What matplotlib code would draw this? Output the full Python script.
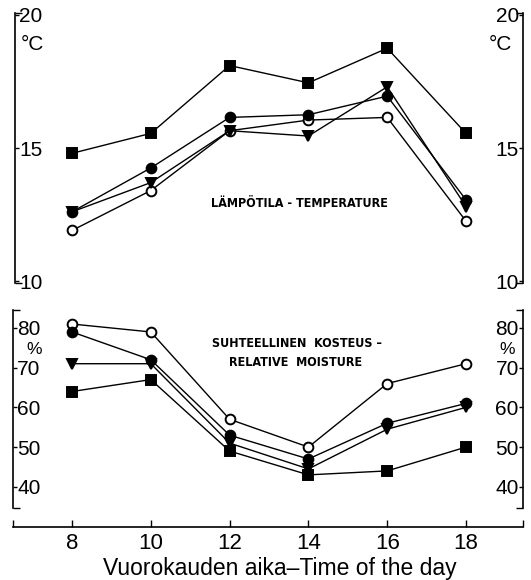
import numpy as np
import matplotlib
matplotlib.use('Agg')
import matplotlib.pyplot as plt

# ── Data ──────────────────────────────────────────────────────────────────────
hours = [8, 10, 12, 14, 16, 18]

temp_square   = [14.8, 15.55, 18.1, 17.45, 18.75, 15.55]
temp_dot      = [12.6, 14.25, 16.15, 16.25, 16.95, 13.05]
temp_triangle = [12.6, 13.7, 15.65, 15.45, 17.3, 12.8]
temp_circle   = [11.9, 13.4, 15.65, 16.05, 16.15, 12.25]

moist_square   = [64, 67, 49, 43, 44, 50]
moist_dot      = [79, 72, 53, 47, 56, 61]
moist_triangle = [71, 71, 51, 44.5, 54.5, 60]
moist_circle   = [81, 79, 57, 50, 66, 71]

plt.rcParams['font.family'] = ['Liberation Sans', 'DejaVu Sans']

W, H = 531, 580
fig = plt.figure(figsize=(W / 100, H / 100), dpi=100)


def px_axes(x0, y0, x1, y1):
    return fig.add_axes([x0 / W, 1 - y1 / H, (x1 - x0) / W, (y1 - y0) / H])


def hour_at(px):
    # pixel column -> hour, from the tick positions 8 h @ 72 px, 39.4 px/h
    return 8 + (px - 72) / 39.4


def series(ax, y, marker, filled=True, ms=7):
    ax.plot(hours, y, color='black', lw=1.0, marker=marker, ms=ms,
            mfc='black' if filled else 'white', mec='black', mew=1.4,
            clip_on=False, zorder=3)


def style_y(ax, major, lo, hi):
    ax.set_yticks(major)
    ax.set_yticks([lo, hi], minor=True)
    ax.tick_params(axis='y', which='both', direction='in', left=True,
                   right=True, labelleft=True, labelright=True, width=1.0,
                   labelsize=15)
    ax.tick_params(axis='y', which='minor', length=5)
    ax.tick_params(axis='y', which='major', length=3, pad=-3)
    for t in ax.yaxis.get_major_ticks():
        t.label1.set_ha('left')
        t.label2.set_ha('right')


label_kw = dict(fontsize=9, fontweight='bold', ha='center', va='center',
                family='DejaVu Sans', stretch='condensed')

# ── Temperature panel ─────────────────────────────────────────────────────────
ax1 = px_axes(15, 13, 523, 283)
ax1.set_xlim(hour_at(15), hour_at(523))
ax1.set_ylim(9.925, 20.075)
for s in ['top', 'bottom']:
    ax1.spines[s].set_visible(False)
ax1.set_xticks([])

series(ax1, temp_circle, 'o', filled=False)
series(ax1, temp_dot, 'o')
series(ax1, temp_triangle, 'v')
series(ax1, temp_square, 's', ms=6.5)

style_y(ax1, [10, 15, 20], 9.925, 20.075)

ax1.text(0.012, 0.885, '°C', transform=ax1.transAxes, fontsize=15,
         ha='left', va='center')
ax1.text(0.978, 0.885, '°C', transform=ax1.transAxes, fontsize=15,
         ha='right', va='center')
ax1.text(hour_at(299), 12.9, 'LÄMPÖTILA - TEMPERATURE', **label_kw)

# ── Moisture panel ────────────────────────────────────────────────────────────
ax2 = px_axes(13, 310, 523, 527)
ax2.set_xlim(hour_at(13), hour_at(523))
ax2.set_ylim(29.87, 84.53)
ax2.spines['top'].set_visible(False)
ax2.spines['left'].set_bounds(34.66, 84.53)
ax2.spines['right'].set_bounds(34.66, 84.53)

series(ax2, moist_circle, 'o', filled=False)
series(ax2, moist_triangle, 'v')
series(ax2, moist_dot, 'o')
series(ax2, moist_square, 's', ms=6.5)

style_y(ax2, [40, 50, 60, 70, 80], 34.66, 84.53)

ax2.text(0.042, 0.818, '%', transform=ax2.transAxes, fontsize=12.5,
         ha='center', va='center')
ax2.text(0.968, 0.818, '%', transform=ax2.transAxes, fontsize=12.5,
         ha='center', va='center')
ax2.text(hour_at(297), 76.2, 'SUHTEELLINEN  KOSTEUS –', **label_kw)
ax2.text(hour_at(296), 71.2, 'RELATIVE  MOISTURE', **label_kw)

ax2.set_xticks([hour_at(13)] + hours + [hour_at(523)])
ax2.set_xticklabels([''] + [str(h) for h in hours] + [''])
ax2.tick_params(axis='x', direction='in', length=5, width=1.0,
                labelsize=16, pad=4)
ax2.set_xlabel('Vuorokauden aika–Time of the day', fontsize=16.5)
ax2.xaxis.set_label_coords(0.524, -0.14)

for ax in (ax1, ax2):
    for s in ax.spines.values():
        s.set_linewidth(1.2)

fig.savefig('out.png', dpi=100)
